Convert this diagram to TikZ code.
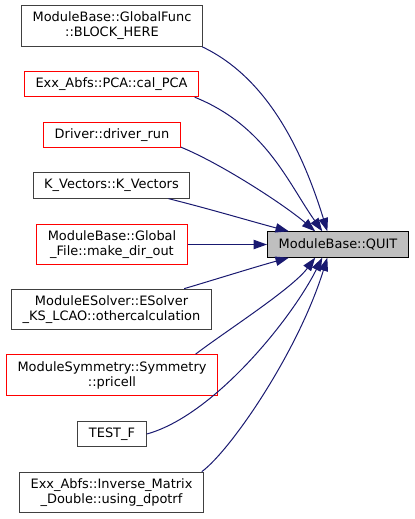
\documentclass[tikz,border=0pt]{standalone}
\usepackage{fontspec}
\setmainfont{DejaVu Sans}
\usetikzlibrary{arrows.meta}
\definecolor{edgeblue}{HTML}{191970}
\definecolor{nodegray}{HTML}{BFBFBF}

\begin{document}
\begin{tikzpicture}[x=0.75pt, y=-0.75pt,
  every node/.style={font=\fontsize{9.7}{11.25}\selectfont, align=center,
    draw=black!75, line width=0.75pt, fill=white,
    inner xsep=8.4pt, inner ysep=0pt, minimum height=19pt},
  two/.style={minimum height=30.5pt},
  part/.style={draw=red},
  edge/.style={draw=edgeblue, line width=0.75pt,
    -{Triangle[length=10pt,width=7pt]}}]
  \useasboundingbox (0,0) rectangle (415,519);

  \coordinate (c0) at (338,244.5);
  \coordinate (c1) at (112,26);
  \coordinate (c2) at (111.5,84);
  \coordinate (c3) at (112,135);
  \coordinate (c4) at (111.5,185.5);
  \coordinate (c5) at (112,244.5);
  \coordinate (c6) at (111.5,309.5);
  \coordinate (c7) at (112,375);
  \coordinate (c8) at (112,434);
  \coordinate (c9) at (111.5,492.5);

  \node[fill=nodegray, draw=black] (quit) at (c0) {ModuleBase::QUIT};
  \node[two]       (blk)   at (c1) {ModuleBase::GlobalFunc\\::BLOCK\_HERE};
  \node[part]      (pca)   at (c2) {Exx\_Abfs::PCA::cal\_PCA};
  \node[part]      (drv)   at (c3) {Driver::driver\_run};
  \node            (kvec)  at (c4) {K\_Vectors::K\_Vectors};
  \node[two, part] (mkdir) at (c5) {ModuleBase::Global\\\_File::make\_dir\_out};
  \node[two]       (oth)   at (c6) {ModuleESolver::ESolver\\\_KS\_LCAO::othercalculation};
  \node[two, part] (prc)   at (c7) {ModuleSymmetry::Symmetry\\::pricell};
  \node            (tst)   at (c8) {TEST\_F};
  \node[two]       (inv)   at (c9) {Exx\_Abfs::Inverse\_Matrix\\\_Double::using\_dpotrf};

  \draw[edge] (blk.-13) .. controls (270,79) and (304,156) .. (quit.129);
  \draw[edge] (pca.-9) .. controls (266,126) and (288,183) .. (quit.140);
  \draw[edge] (drv.-10) .. controls (222,164) and (286,206) .. (quit.150);
  \draw[edge] (kvec.-13) .. controls (210,209) and (250,221) .. (quit.165);
  \draw[edge] (mkdir) -- (quit);
  \draw[edge] (oth.16) .. controls (220,278) and (255,267) .. (quit.195);
  \draw[edge] (prc.14) .. controls (223,333) and (292,289) .. (quit.210);
  \draw[edge] (tst.east) .. controls (213,416) and (291,320) .. (quit.220);
  \draw[edge] (inv.13) .. controls (231,450) and (298,352) .. (quit.231);
\end{tikzpicture}
\end{document}
